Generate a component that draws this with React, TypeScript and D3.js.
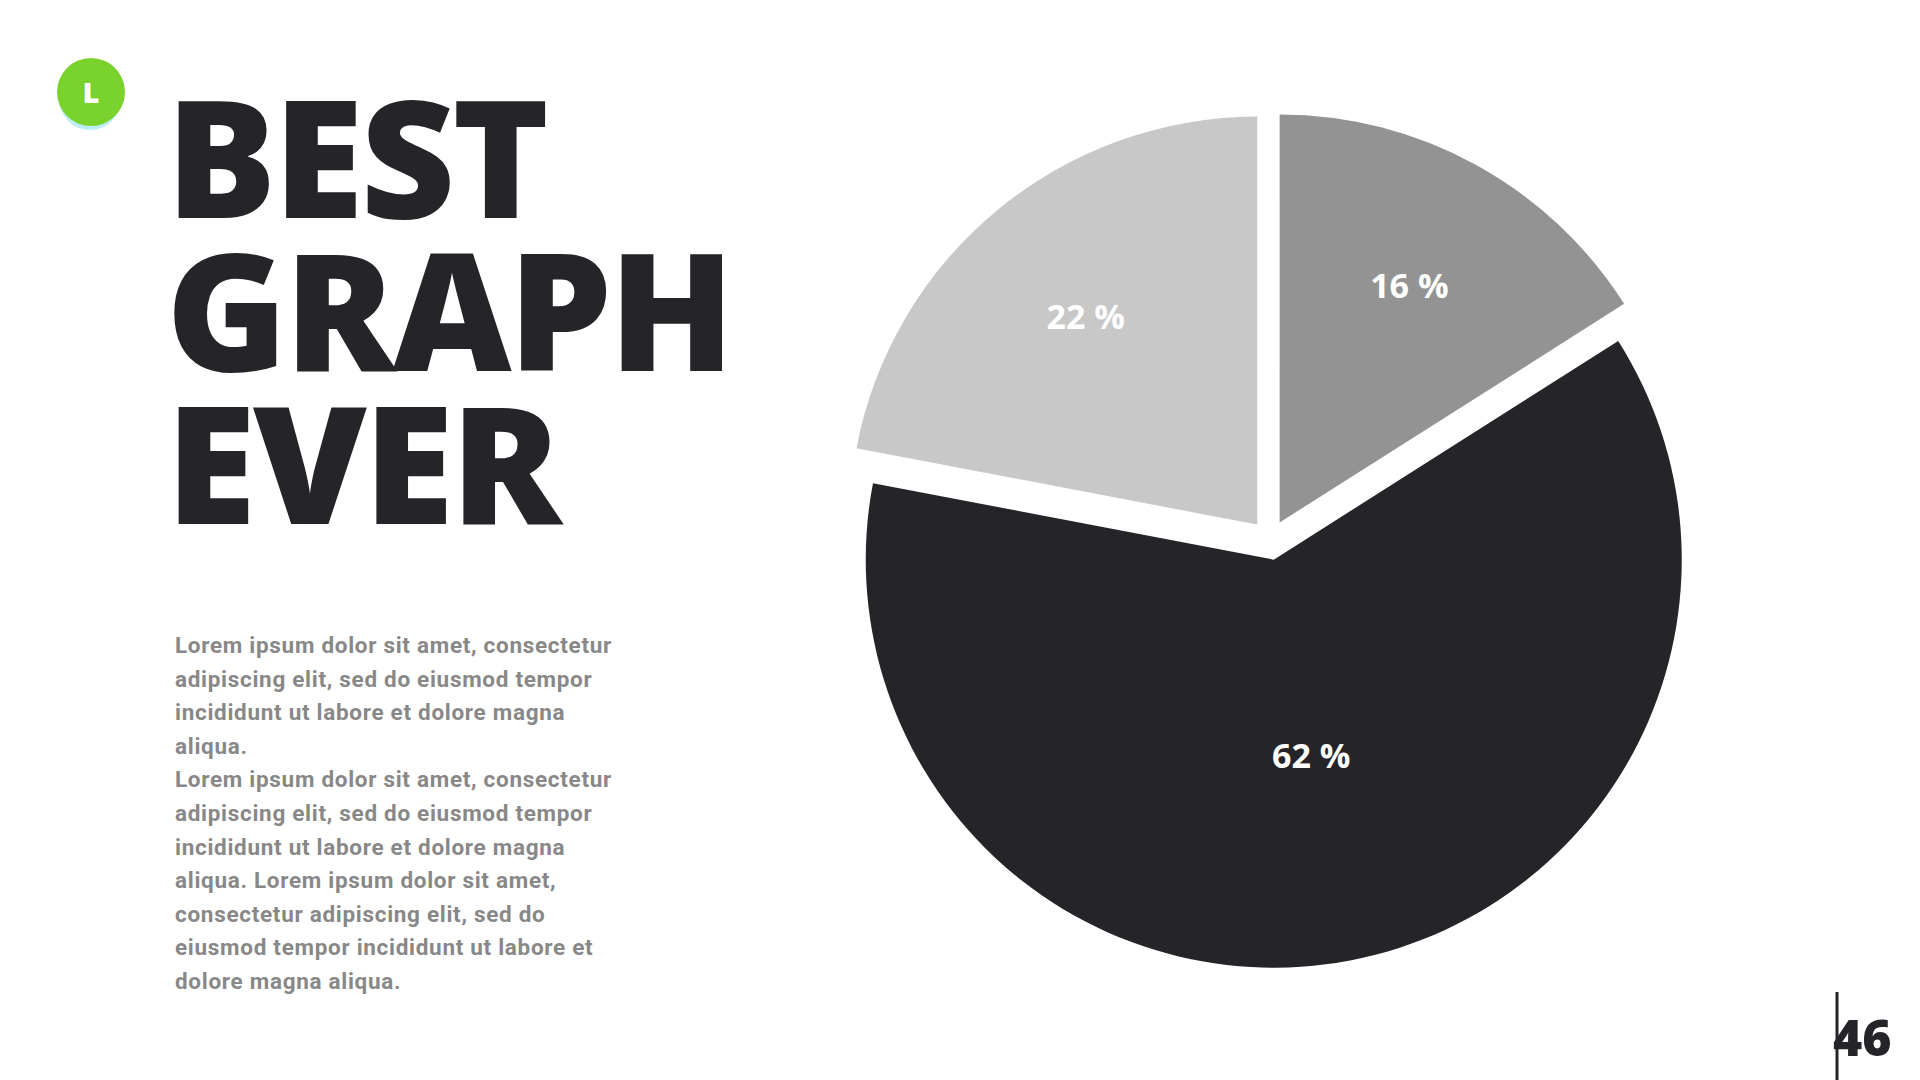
import React from 'react';
import * as d3 from 'd3';

const sliceNames = ['A', 'B', 'C'];
const sliceValues = [16, 62, 22];
const sliceColors = ['#939393', '#252428', '#c8c8c8'];

const titleLines = ['BEST', 'GRAPH', 'EVER'];
const bodyLines = [
  'Lorem ipsum dolor sit amet, consectetur',
  'adipiscing elit, sed do eiusmod tempor',
  'incididunt ut labore et dolore magna',
  'aliqua.',
  'Lorem ipsum dolor sit amet, consectetur',
  'adipiscing elit, sed do eiusmod tempor',
  'incididunt ut labore et dolore magna',
  'aliqua. Lorem ipsum dolor sit amet,',
  'consectetur adipiscing elit, sed do',
  'eiusmod tempor incididunt ut labore et',
  'dolore magna aliqua.',
];
const pageNumber = '46';

const W = 1920;
const H = 1080;
const cx = 1270;
const cy = 540;
const radius = 408;
const explode = 20;

const App = () => {
  const data = sliceNames.map((name, i) => ({ name, value: sliceValues[i], color: sliceColors[i] }));

  const pie = d3.pie<any>()
    .sort(null)
    .value(d => d.value);
  const arcs = pie(data);

  const arc = d3.arc<any>()
    .innerRadius(0)
    .outerRadius(radius);

  const dark = '#252428';

  return (
    <svg width={W} height={H} style={{ position: 'absolute', left: 0, top: 0, background: '#fff' }}>
      {/* logo */}
      <g>
        <circle cx={90} cy={99} r={31} fill="#bdeef7" />
        <circle cx={91} cy={92} r={34} fill="#7ad22c" />
        <text x={91} y={93} dy="0.36em" textAnchor="middle" fill="#fff"
          fontFamily="'Open Sans', sans-serif" fontWeight={800} fontSize={29}>L</text>
      </g>

      {/* title */}
      <text fontFamily="'Open Sans', sans-serif" fontWeight={800} fontSize={164} fill={dark} letterSpacing={-3}>
        {titleLines.map((line, i) => (
          <tspan key={line} x={166} y={218 + i * 153}>{line}</tspan>
        ))}
      </text>

      {/* body */}
      <text fontFamily="Roboto, sans-serif" fontWeight={700} fontSize={22.5} fill="#888888" letterSpacing={0.7}>
        {bodyLines.map((line, i) => (
          <tspan key={i} x={175} y={653 + i * 33.6}>{line}</tspan>
        ))}
      </text>

      {/* pie */}
      <g transform={`translate(${cx},${cy})`}>
        {arcs.map(a => {
          const mid = (a.startAngle + a.endAngle) / 2;
          const dx = Math.sin(mid) * explode;
          const dy = -Math.cos(mid) * explode;
          const lr = a.data.value > 50 ? radius * 0.49 : radius * 0.66;
          const lx = Math.sin(mid) * lr;
          const ly = -Math.cos(mid) * lr;
          return (
            <g key={a.data.name} transform={`translate(${dx},${dy})`}>
              <path d={arc(a) as string} fill={a.data.color} />
              <text x={lx} y={ly} dy="0.35em" textAnchor="middle" fill="#fff"
                fontFamily="'Open Sans', sans-serif" fontWeight={700} fontSize={34}>
                {`${a.data.value} %`}
              </text>
            </g>
          );
        })}
      </g>

      {/* page number */}
      <line x1={1837} y1={992} x2={1837} y2={1080} stroke={dark} strokeWidth={3} />
      <text x={1833} y={1056} fill={dark} fontFamily="'Open Sans', sans-serif" fontWeight={800} fontSize={50}>
        {pageNumber}
      </text>
    </svg>
  );
};

export default App;
